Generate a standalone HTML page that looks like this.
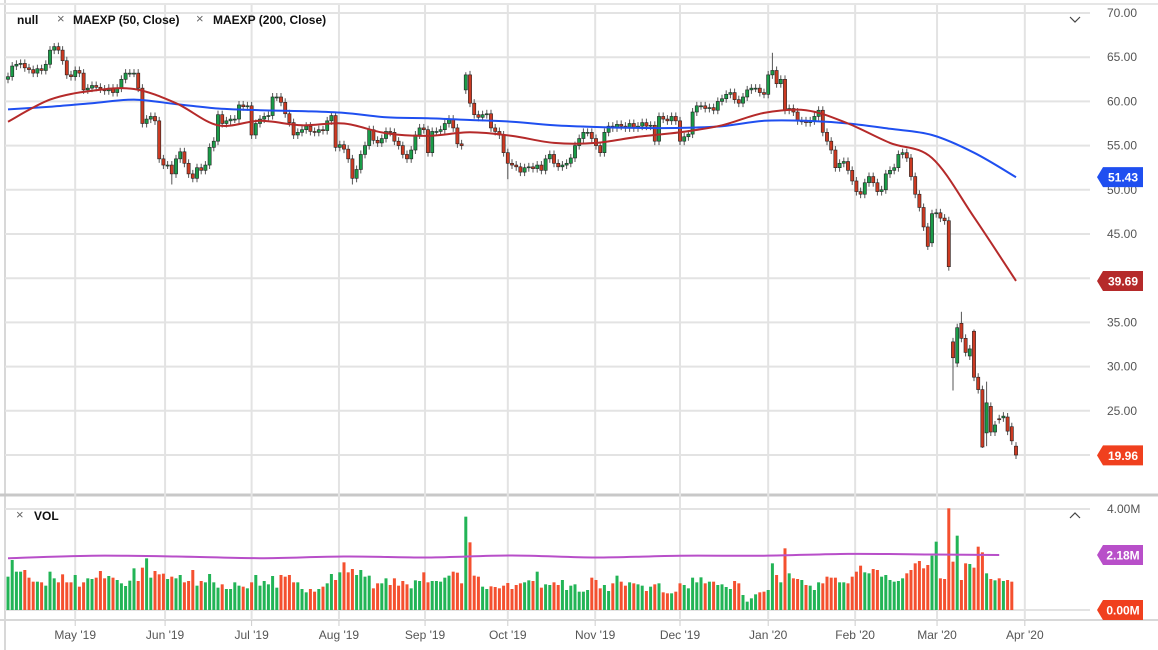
<!DOCTYPE html>
<html><head><meta charset="utf-8"><style>
html,body{margin:0;padding:0;background:#fff;}
svg{display:block;font-family:"Liberation Sans",sans-serif;}
</style></head><body>
<svg id="c" width="1158" height="650" viewBox="0 0 1158 650" xmlns="http://www.w3.org/2000/svg">
<rect x="0" y="0" width="1158" height="650" fill="#fff"/>
<g id="grid"></g>
<g id="vol"></g>
<g id="candles"></g>
<g id="lines"></g>
<g id="labels"></g>
<text x="17" y="24" font-size="12" font-weight="bold" fill="#111">null</text>
<text x="57" y="23" font-size="13" fill="#666">×</text>
<text x="73" y="24" font-size="12" font-weight="bold" fill="#111">MAEXP (50, Close)</text>
<text x="196" y="23" font-size="13" fill="#666">×</text>
<text x="213" y="24" font-size="12" font-weight="bold" fill="#111">MAEXP (200, Close)</text>
<path d="M1070 17 L1075 22 L1080 17" fill="none" stroke="#444" stroke-width="1.2"/>
<text x="16" y="519" font-size="13" fill="#666">×</text>
<text x="34" y="520" font-size="12" font-weight="bold" fill="#111">VOL</text>
<path d="M1070 518 L1075 513 L1080 518" fill="none" stroke="#444" stroke-width="1.2"/>
</svg>
<script>
const closes=[62.8,64,64.2,64.3,63.8,63.6,63.2,63.7,63.5,64.2,65.8,66.2,65.8,64.6,63,62.8,63.5,63.2,61.3,61.5,
61.8,61.6,61.4,61.2,61.5,61,61.5,62.5,63.2,63.2,63.2,61.5,57.5,58,58.3,57.8,53.5,52.8,52.8,51.8,
53.5,54.3,53,51.8,51.3,52.5,52.2,52.8,54.8,55.5,58.5,57.5,57.8,58,58,59.6,59.4,59.5,56.2,57.5,
58,58.3,58.4,60.5,60.5,59.9,58.6,57.6,56.2,56.5,56.8,57.2,56.6,56.5,56.8,56.7,57.8,58.4,54.8,55.1,
54.6,53.5,51.3,52.3,54,55,56.8,55.6,55.3,55.8,56.6,56.5,55.5,55,54,53.5,54.5,56.2,57,56.8,
54.2,56.6,56.6,56.8,57.5,58,57,55.2,55,63,59.8,58.5,58.2,58.5,58.6,57,56.6,56.2,54.2,53,
52.8,52.6,52,52.5,52.6,52.4,52.8,52.2,53.5,54,53,52.6,52.8,53,53.6,55,55.8,56.5,56.5,55.8,
55,54.2,56.5,57.2,57,57.4,57.2,57,57.5,57,57.2,57.6,57.2,57.3,55.5,58.3,58,57.8,58.3,57.8,
55.5,56,56.3,58.8,59.5,59.5,59.2,59.3,59,60,60.3,60.8,61,60.2,59.8,60.5,61.3,61.5,61.5,61,
60.8,63,63.5,62,62.5,59,59.2,58.8,57.8,57.8,57.6,57.8,58.3,59,56.5,55.5,54.5,52.5,53,53.2,
52.2,51,49.8,49.5,50.8,51.5,50.8,49.8,50,51.8,52.2,52.5,54,54.2,53.6,51.5,49.5,48,45.8,43.6,
47.3,47.4,46.8,46.5,41.3,31,34.4,33.2,31.6,32,28.8,27.4,20.9,25.9,22.6,23.4,24,24.4,22.7,21.6,
20];
const gapOpens=[[109,61.3],[220,44],[225,32.8],[226,30.4],[227,34.9],[229,31.2],[230,34],[233,22.5],[234,25.5],[235,22.6],[236,24.1],[237,24.2],[238,24.3],[239,23.2],[240,21]];
const highOverrides=[[182,65.5],[227,36.2],[230,34.2],[233,28.3],[109,63.3],[11,66.6]];
const lowOverrides=[[225,27.3],[232,20.8],[233,21],[219,43.2],[39,50.6],[82,50.6],[119,51.2]];
const volumes=[245,195,230,230,225,248,260,260,262,272,
230,250,262,238,262,262,240,275,262,
250,252,248,228,250,243,248,255,265,
273,257,220,258,218,190,248,228,238,
236,252,245,250,240,262,258,225,272,
258,262,237,262,278,268,282,282,262,
272,275,280,262,240,272,258,268,243,
278,240,245,240,262,262,282,292,282,
290,282,275,265,237,255,232,202,232,222,
240,225,245,242,280,265,265,250,270,250,
272,258,268,280,256,258,232,262,258,258,
260,248,242,230,233,265,65,142,242,245,
275,282,274,276,280,272,264,282,270,265,
262,256,258,230,278,268,270,262,270,255,285,272,268,
290,290,285,248,255,280,270,288,265,242,
260,272,262,265,268,272,288,275,268,265,
292,295,295,290,265,270,280,248,262,247,
265,260,260,270,268,276,282,258,265,300,
320,310,298,292,290,285,205,240,262,160,
235,250,252,255,270,272,285,262,265,245,
248,248,262,262,265,245,230,212,
232,235,222,225,245,240,255,260,
258,250,235,225,205,198,220,210,182,140,
250,252,40,200,122,255,205,207,218,155,
172,235,252,256,250,258,255,260].map(z=>(345-z)/75.75);
const maIdx=[0,10,20,30,40,50,60,70,80,90,100,110,120,130,140,150,160,170,180,190,200,210,220,230,240];
const ma50=[57.7,60.2,61.2,61.4,59.8,57.3,57.8,57.3,57.5,56.4,56.1,56.5,56.1,55.3,55.3,56,56.5,57.3,58.7,59,57.5,55.3,53.6,46.9,39.69];
const ma200=[59.1,59.4,59.8,60.2,59.7,59.2,59,58.9,58.7,58.2,58.1,57.9,57.7,57.3,57.1,57,57,57.2,57.8,57.8,57.5,56.9,56.2,54.2,51.43];
const volMaIdx=[0,20,40,60,80,100,120,140,160,180,200,220,236];
const volMa=[2.05,2.15,2.12,2.05,2.12,2.08,2.16,2.08,2.15,2.15,2.22,2.2,2.18];
const priceTicks=[70,65,60,55,50,45,40,35,30,25,20];
const monthLabels=["May '19","Jun '19","Jul '19","Aug '19","Sep '19","Oct '19","Nov '19","Dec '19","Jan '20","Feb '20","Mar '20","Apr '20"];
const monthIdx=[16,37.4,58,78.8,99.3,119,139.8,160,181,201.7,221.2,242.1];

const NS="http://www.w3.org/2000/svg";
const X=i=>8+i*4.2;
const Y=p=>13+(70-p)*8.84;
const VY=v=>610-v*25.25;
function mk(t,a,p){const e=document.createElementNS(NS,t);for(const k in a)e.setAttribute(k,a[k]);p.appendChild(e);return e;}
const G=document.getElementById('grid'),V=document.getElementById('vol'),C=document.getElementById('candles'),L=document.getElementById('lines'),T=document.getElementById('labels');
let e=mk('line',{x1:5,y1:0,x2:5,y2:650,stroke:'#d8d8d8','stroke-width':2},G);

e=mk('line',{x1:0,y1:495,x2:1158,y2:495,stroke:'#c8c8c8','stroke-width':3},G);

e=mk('line',{x1:0,y1:620,x2:1158,y2:620,stroke:'#d8d8d8','stroke-width':2},G);

e=mk('line',{x1:0,y1:4,x2:1158,y2:4,stroke:'#e6e6e6','stroke-width':2},G);

priceTicks.forEach(p=>{
  const g=mk('line',{x1:5,y1:Y(p),x2:1090,y2:Y(p),stroke:'#e3e3e3','stroke-width':2},G);
  
  const t=mk('text',{x:1107,y:Y(p)+4,'font-size':12,fill:'#555'},T);t.textContent=p.toFixed(2);
  
});
[4,0].forEach(v=>{
  const g=mk('line',{x1:5,y1:VY(v),x2:1090,y2:VY(v),stroke:'#e3e3e3','stroke-width':2},G);
  
});
let t=mk('text',{x:1107,y:VY(4)+4,'font-size':12,fill:'#555'},T);t.textContent='4.00M';

monthIdx.forEach((mi,k)=>{
  const x=X(mi);
  const g=mk('line',{x1:x,y1:5,x2:x,y2:620,stroke:'#e3e3e3','stroke-width':2},G);
  
  const tk=mk('line',{x1:x,y1:620,x2:x,y2:626,stroke:'#ccc','stroke-width':1},G);
  
  const tx=mk('text',{x:x,y:639,'font-size':12,fill:'#555','text-anchor':'middle'},T);tx.textContent=monthLabels[k];
  
});
const opens=closes.map((c,i)=>i===0?c-0.3:closes[i-1]);
gapOpens.forEach(([i,v])=>opens[i]=v);
const highs=closes.map((c,i)=>Math.max(c,opens[i])+0.45);
const lows=closes.map((c,i)=>Math.min(c,opens[i])-0.45);
highOverrides.forEach(([i,v])=>highs[i]=v);
lowOverrides.forEach(([i,v])=>lows[i]=v);
closes.forEach((c,i)=>{
  const o=opens[i],up=c>=o,x=X(i);
  const w=mk('line',{x1:x,y1:Y(highs[i]),x2:x,y2:Y(lows[i]),stroke:'#555','stroke-width':1},C);
  
  const top=Y(Math.max(o,c)),h=Math.max(1,Y(Math.min(o,c))-top);
  const b=mk('rect',{x:x-1.6,y:top,width:3.2,height:h,fill:up?'#1a9c48':'#cc3a22',stroke:'#222','stroke-width':0.6},C);
  
});
volumes.forEach((v,i)=>{
  const up=closes[i]>=opens[i];
  const r=mk('rect',{x:X(i)-1.5,y:VY(v),width:3,height:610-VY(v),fill:up?'#22b456':'#f4502f'},V);
  
});
function line(idx,vals,fy,col,name,sw){
  const P=idx.map((ix,k)=>[X(ix),fy(vals[k])]);
  let d='M'+P[0][0].toFixed(1)+' '+P[0][1].toFixed(1);
  for(let k=0;k<P.length-1;k++){
    const p0=P[Math.max(0,k-1)],p1=P[k],p2=P[k+1],p3=P[Math.min(P.length-1,k+2)];
    const c1=[p1[0]+(p2[0]-p0[0])/6,p1[1]+(p2[1]-p0[1])/6];
    const c2=[p2[0]-(p3[0]-p1[0])/6,p2[1]-(p3[1]-p1[1])/6];
    d+=` C${c1[0].toFixed(1)} ${c1[1].toFixed(1)} ${c2[0].toFixed(1)} ${c2[1].toFixed(1)} ${p2[0].toFixed(1)} ${p2[1].toFixed(1)}`;
  }
  const p=mk('path',{d:d,fill:'none',stroke:col,'stroke-width':sw,'stroke-linejoin':'round'},L);
  
}
line(maIdx,ma200,Y,'#1f4ff0','ma200-line',2);
line(maIdx,ma50,Y,'#b52a2a','ma50-line',2);
line(volMaIdx,volMa,VY,'#b84fc9','volume-ma-line',2);
function badge(y,txt,col,name){
  const g=mk('g',{},T);
  
  mk('path',{d:`M1097 ${y} L1103 ${y-10} L1143 ${y-10} L1143 ${y+10} L1103 ${y+10} Z`,fill:col},g);
  const tt=mk('text',{x:1123,y:y+4.5,'font-size':12,'font-weight':'bold',fill:'#fff','text-anchor':'middle'},g);tt.textContent=txt;
}
badge(Y(ma200[ma200.length-1]),ma200[ma200.length-1].toFixed(2),'#1f4ff0','ma200-value-badge');
badge(Y(ma50[ma50.length-1]),ma50[ma50.length-1].toFixed(2),'#b52a2a','ma50-value-badge');
badge(Y(19.96),'19.96','#f0401e','last-price-badge');
badge(VY(volMa[volMa.length-1]),volMa[volMa.length-1].toFixed(2)+'M','#b84fc9','volume-ma-badge');
badge(VY(0),'0.00M','#f0401e','last-volume-badge');
</script>
</body></html>
